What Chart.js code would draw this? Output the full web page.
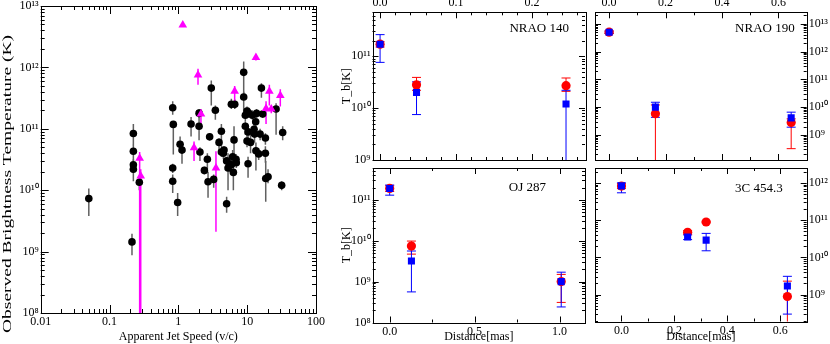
<!DOCTYPE html>
<html>
<head>
<meta charset="utf-8">
<script src="https://cdn.jsdelivr.net/npm/chart.js@4.4.1/dist/chart.umd.min.js"></script>
<style>
  body { margin: 0; background: #fff; width: 830px; height: 344px; position: relative; overflow: hidden; }
  canvas { position: absolute; }
</style>
</head>
<body>
<canvas id="speedChart" width="330" height="344" style="left:0;top:0"></canvas>
<canvas id="nrao140" width="250" height="165" style="left:340px;top:0"></canvas>
<canvas id="nrao190" width="240" height="165" style="left:590px;top:0"></canvas>
<canvas id="oj287" width="250" height="181" style="left:340px;top:163px"></canvas>
<canvas id="c454" width="240" height="181" style="left:590px;top:163px"></canvas>
<script>
// ---- left panel: jet speed vs brightness temperature ----
var speedBlack = [0.050, 0.212, 0.222, 0.222, 0.222, 0.222, 0.271, 0.828, 0.845, 0.828, 0.828, 0.977, 1.06, 1.13,
  1.53, 2.0, 2.0, 2.06, 2.39, 2.64, 2.70, 2.85, 3.01, 3.26, 3.45, 3.90, 4.22, 4.22, 4.51, 4.61, 5.03, 5.03, 5.27,
  5.51, 5.89, 5.89, 6.15, 6.30, 6.44, 6.60, 6.89, 6.95, 8.9, 8.9, 9.4, 9.4, 9.95, 9.95, 10.3, 10.3, 10.5, 11.2,
  11.9, 12.6, 12.8, 13.3, 13.4, 13.7, 14.7, 15.4, 16.1, 16.8, 18.4, 18.4, 18.6, 20.1, 26.3, 31.7, 32.8];
var tbBlack = [7.3e9, 1.44e9, 8.4e10, 4.3e10, 2.6e10, 2.2e10, 1.35e10, 2.2e11, 1.18e11, 2.3e10, 1.4e10, 6.3e9, 5.6e10, 4.5e10,
  1.2e11, 1.8e11, 1.1e11, 4.2e10, 2.1e10, 3.2e10, 1.37e10, 7.4e10, 4.6e11, 1.5e10, 2.0e11, 6.0e10, 9.1e10, 4.2e10, 4.0e10, 4.5e10, 3.0e10, 6.0e9, 2.3e10,
  2.7e10, 2.5e11, 2.6e10, 3.5e10, 1.95e10, 6.6e10, 2.5e11, 3.2e10, 2.8e10, 8.3e11, 3.3e11, 1.66e11, 1.1e11, 1.95e11, 6.3e10, 8.9e10, 2.7e10, 1.8e11, 6.0e10,
  1.66e11, 9.8e10, 8.2e10, 1.3e11, 4.4e10, 1.78e11, 3.9e10, 8.2e10, 4.6e11, 1.74e11, 7.1e10, 4.0e10, 1.55e10, 1.66e10, 2.1e11, 1.2e10, 8.7e10];
var tbBlackLo = [3.8e9, 8.7e8, 5.4e10, 3.0e10, 1.9e10, 1.4e10, 1.0e10, 1.7e11, 3.8e10, 1.9e10, 9e9, 3.8e9, 4.3e10, 2.7e10,
  7.5e10, 1.5e11, 6.5e10, 3.0e10, 1.8e10, 2.2e10, 7.5e9, 6.5e10, 2.4e11, 1.1e10, 1.4e11, 4.5e10, 5e10, 3.5e10, 3.2e10, 3.6e10, 2.5e10, 4.3e9, 1.0e10,
  2.0e10, 2.1e11, 2.0e10, 2.5e10, 1.0e10, 3.6e10, 2.1e11, 2.6e10, 2.3e10, 3.5e11, 1.8e11, 1.3e11, 8e10, 1.6e11, 5e10, 7e10, 1.6e10, 1.5e11, 4e10,
  1.4e11, 8e10, 6e10, 1.0e11, 2.1e10, 1.5e11, 3.1e10, 6.5e10, 3.2e11, 1.5e11, 5.5e10, 2.8e10, 6.5e9, 1.3e10, 8e10, 1.0e10, 6.5e10];
var tbBlackHi = [1.07e10, 1.95e9, 1.2e11, 5.5e10, 3.2e10, 2.6e10, 1.7e10, 2.8e11, 1.3e11, 2.7e10, 1.8e10, 9e9, 7.5e10, 5.5e10,
  1.55e11, 2.1e11, 1.6e11, 5.0e10, 2.4e10, 4.0e10, 2.0e10, 8.5e10, 6.1e11, 1.8e10, 2.4e11, 7e10, 1.2e11, 5e10, 4.8e10, 5.2e10, 3.5e10, 7.8e9, 4.0e10,
  3.3e10, 3.1e11, 3.3e10, 4.5e10, 3.5e10, 1.1e11, 3.0e11, 3.9e10, 3.4e10, 1.25e12, 4.0e11, 2.0e11, 1.3e11, 2.3e11, 8e10, 1.1e11, 3.5e10, 2.2e11, 8e10,
  2.0e11, 1.2e11, 1.0e11, 1.6e11, 6.0e10, 2.1e11, 4.8e10, 1.0e11, 5.5e11, 2.0e11, 8.5e10, 5.2e10, 3.0e10, 2.2e10, 2.6e11, 1.4e10, 1.1e11];
var speedLimit = [1.16, 1.93, 2.13, 1.69, 0.274, 0.284, 3.52, 6.58, 13.4, 18.8, 21.0, 22.4, 30.3];
var tbLimit = [4.9e12, 7.5e11, 1.74e11, 4.9e10, 3.3e10, 1.7e10, 2.3e10, 4.1e11, 1.45e12, 2.15e11, 4.1e11, 2.1e11, 3.5e11];
var tbLimitLo = [4.9e12, 5.2e11, 1.0e11, 3.0e10, 1e7, 1e7, 2.1e9, 2.4e11, 1.3e12, 1.2e11, 2.4e11, 1.8e11, 2.3e11];
var tbLimitHi = [4.9e12, 9.5e11, 2.1e11, 6.2e10, 4.2e10, 2.2e10, 4.3e10, 5.0e11, 1.6e12, 2.8e11, 5.2e11, 2.4e11, 4.4e11];
var speedTicks = [0.01, 0.1, 1, 10, 100];
var tbTicks = [1e8, 1e9, 1e10, 1e11, 1e12, 1e13];

// ---- NRAO 140 ----
var n140Dist = [0.0, 0.048, 0.245];
var n140Red = [1.7e11, 2.8e10, 2.7e10];
var n140RedLo = [1.5e11, 2.2e10, 2.1e10];
var n140RedHi = [1.9e11, 3.9e10, 3.8e10];
var n140Blue = [1.7e11, 2.0e10, 1.2e10];
var n140BlueLo = [7.6e10, 7.5e9, 1e7];
var n140BlueHi = [2.6e11, 3.2e10, 2.2e10];
var n140XTicks = [0.0, 0.1, 0.2];
var n140YTicks = [1e9, 1e10, 1e11];

// ---- NRAO 190 ----
var n190Dist = [0.0, 0.164, 0.645];
var n190Red = [5e12, 5.8e9, 2.8e9];
var n190RedLo = [4.5e12, 1e7, 3.2e8];
var n190RedHi = [5.5e12, 1.2e10, 3.8e9];
var n190Blue = [5e12, 1e10, 4.1e9];
var n190BlueLo = [4.5e12, 4.3e9, 1.9e9];
var n190BlueHi = [5.5e12, 1.5e10, 6.6e9];
var n190XTicks = [0.0, 0.2, 0.4, 0.6];
var n190YTicks = [1e9, 1e10, 1e11, 1e12, 1e13];

// ---- OJ 287 ----
var ojDist = [0.0, 0.128, 1.01];
var ojRed = [1.9e11, 7.4e9, 1e9];
var ojRedLo = [1.6e11, 4.7e9, 3.1e8];
var ojRedHi = [2.2e11, 9.8e9, 1.5e9];
var ojBlue = [1.9e11, 3.2e9, 1e9];
var ojBlueLo = [1.3e11, 5.6e8, 2.4e8];
var ojBlueHi = [2.3e11, 5.6e9, 1.7e9];
var ojXTicks = [0.0, 0.5, 1.0];
var ojYTicks = [1e8, 1e9, 1e10, 1e11];

// ---- 3C 454.3 ----
var c454Dist = [0.0, 0.25, 0.32, 0.627];
var c454Red = [8.2e11, 4.7e10, 8.9e10, 8.9e8];
var c454RedLo = [7e11, 4.2e10, 8.5e10, 1e7];
var c454RedHi = [9.5e11, 5.2e10, 9.3e10, 2.3e9];
var c454Blue = [8.3e11, 3.5e10, 2.9e10, 1.7e9];
var c454BlueLo = [5.4e11, 3.0e10, 1.5e10, 3.0e8];
var c454BlueHi = [1e12, 4.0e10, 4.4e10, 3.1e9];
var c454XTicks = [0.0, 0.2, 0.4, 0.6];
var c454YTicks = [1e9, 1e10, 1e11, 1e12];

var SUP = {'0':'\u2070','1':'\u00b9','2':'\u00b2','3':'\u00b3','4':'\u2074','5':'\u2075','6':'\u2076','7':'\u2077','8':'\u2078','9':'\u2079','-':'\u207b'};
function powLabel(v) {
  var e = Math.round(Math.log10(v));
  return '10' + String(e).split('').map(function (c) { return SUP[c]; }).join('');
}

function pts(xs, ys) {
  return xs.map(function (x, i) { return {x: x, y: ys[i]}; });
}

// error bars drawn from the data, through the chart scales
var errorBars = {
  id: 'errorBars',
  beforeDatasetsDraw: function (chart) {
    var ctx = chart.ctx, a = chart.chartArea;
    var xs = chart.scales.x, ys = chart.scales.y;
    ctx.save();
    ctx.beginPath();
    ctx.rect(a.left, a.top, a.right - a.left, a.bottom - a.top);
    ctx.clip();
    chart.data.datasets.slice().reverse().forEach(function (ds) {
      if (!ds.errLo) return;
      ctx.strokeStyle = ds.errColor;
      ctx.lineWidth = ds.errWidth || 1;
      ds.data.forEach(function (p, j) {
        var px = xs.getPixelForValue(p.x);
        var lo = ys.getPixelForValue(ds.errLo[j]);
        var hi = ys.getPixelForValue(ds.errHi[j]);
        ctx.beginPath();
        ctx.moveTo(px, lo);
        ctx.lineTo(px, hi);
        if (ds.cap) {
          ctx.moveTo(px - ds.cap, lo); ctx.lineTo(px + ds.cap, lo);
          ctx.moveTo(px - ds.cap, hi); ctx.lineTo(px + ds.cap, hi);
        }
        ctx.stroke();
      });
    });
    ctx.restore();
  }
};

function tickMarks(scale, minorStep) {
  var out = [];
  if (scale.type === 'logarithmic') {
    for (var e = Math.floor(Math.log10(scale.min)); e <= Math.ceil(Math.log10(scale.max)); e++) {
      for (var k = 1; k < 10; k++) {
        var v = k * Math.pow(10, e);
        if (v >= scale.min * 0.9999 && v <= scale.max * 1.0001) out.push({v: v, major: k === 1});
      }
    }
  } else {
    var n0 = Math.ceil(scale.min / minorStep - 1e-9), n1 = Math.floor(scale.max / minorStep + 1e-9);
    for (var n = n0; n <= n1; n++) {
      var val = n * minorStep;
      out.push({v: val, major: scale.ticks.some(function (t) { return Math.abs(t.value - val) < 1e-9; })});
    }
  }
  return out;
}

// box frame with inward ticks on every side, plus the panel name
var frame = {
  id: 'frame',
  afterDraw: function (chart, args, o) {
    var ctx = chart.ctx, a = chart.chartArea;
    var xs = chart.scales.x, ys = chart.scales.y;
    ctx.save();
    ctx.strokeStyle = '#000';
    ctx.lineWidth = 1;
    ctx.strokeRect(Math.round(a.left) + 0.5, Math.round(a.top) + 0.5, Math.round(a.right - a.left), Math.round(a.bottom - a.top));
    ctx.beginPath();
    tickMarks(xs, o.xMinor).forEach(function (t) {
      var px = Math.round(xs.getPixelForValue(t.v)) + 0.5;
      var len = t.major ? o.major : o.minor;
      ctx.moveTo(px, a.bottom); ctx.lineTo(px, a.bottom - len);
      ctx.moveTo(px, a.top); ctx.lineTo(px, a.top + len);
    });
    tickMarks(ys).forEach(function (t) {
      var py = Math.round(ys.getPixelForValue(t.v)) + 0.5;
      var len = t.major ? o.major : o.minor;
      ctx.moveTo(a.left, py); ctx.lineTo(a.left + len, py);
      ctx.moveTo(a.right, py); ctx.lineTo(a.right - len, py);
    });
    ctx.stroke();
    ctx.fillStyle = '#000';
    if (o.text) {
      ctx.font = "13px 'Liberation Serif'";
      ctx.textAlign = 'right';
      ctx.textBaseline = 'alphabetic';
      ctx.fillText(o.text, a.right - o.dx, a.top + o.dy);
    }
    if (o.yTitle) {
      // long vertical title, drawn stretched along its length like the original
      ctx.translate(o.yTitle.x, o.yTitle.y);
      ctx.rotate(-Math.PI / 2);
      ctx.scale(o.yTitle.stretch, 1);
      ctx.font = o.yTitle.size + "px 'Liberation Serif'";
      ctx.textAlign = 'center';
      ctx.textBaseline = 'middle';
      ctx.fillText(o.yTitle.text, 0, 0);
    }
    ctx.restore();
  }
};

Chart.register(errorBars, frame);
Chart.defaults.font.family = "'Liberation Serif', 'Times New Roman', serif";
Chart.defaults.font.size = 12;
Chart.defaults.color = '#000';
Chart.defaults.animation = false;
Chart.defaults.responsive = false;
Chart.defaults.plugins.legend.display = false;
Chart.defaults.plugins.tooltip.enabled = false;

function axis(type, min, max, tickVals, fmt, extra) {
  var s = {
    type: type, min: min, max: max,
    grid: {display: false, drawTicks: false},
    border: {display: false},
    afterBuildTicks: function (sc) { sc.ticks = tickVals.map(function (v) { return {value: v}; }); },
    ticks: {callback: fmt, autoSkip: false, maxRotation: 0, padding: 2, font: {size: 12}}
  };
  for (var k in extra) s[k] = extra[k];
  return s;
}

// left panel (magenta lower limits listed first so they sit on top)
new Chart(document.getElementById('speedChart'), {
  type: 'scatter',
  data: {
    datasets: [{
      data: pts(speedLimit, tbLimit), errLo: tbLimitLo, errHi: tbLimitHi, errColor: '#ff00ff', errWidth: 1.5,
      pointStyle: 'triangle', pointRadius: 5, backgroundColor: '#ff00ff', borderColor: '#ff00ff', borderWidth: 0
    }, {
      data: pts(speedBlack, tbBlack), errLo: tbBlackLo, errHi: tbBlackHi, errColor: '#606060', errWidth: 1.5,
      pointStyle: 'circle', pointRadius: 3.8, backgroundColor: '#000', borderColor: '#000', borderWidth: 0
    }]
  },
  options: {
    layout: {padding: {left: 0, right: 14, top: 6, bottom: 0}},
    scales: {
      x: axis('logarithmic', 0.01, 100, speedTicks, function (v) { return String(v); }, {
        position: 'bottom',
        title: {display: true, text: 'Apparent Jet Speed (v/c)', font: {size: 12}, padding: {top: 0, bottom: 0}},
        afterFit: function (s) { s.height = 31; s.paddingLeft = 0; s.paddingRight = 0; }
      }),
      y: axis('logarithmic', 1e8, 1e13, tbTicks, powLabel, {
        position: 'left',
        afterFit: function (s) { s.width = 40.7; s.paddingTop = 0; s.paddingBottom = 0; }
      })
    },
    plugins: {frame: {major: 8, minor: 4,
      yTitle: {text: 'Observed Brightness Temperature (K)', x: 8, y: 184, size: 13, stretch: 1.5}}}
  }
});

function distancePanel(id, d, red, redLo, redHi, blue, blueLo, blueHi, xr, yr, xTicks, yTicks, lay) {
  return new Chart(document.getElementById(id), {
    type: 'scatter',
    data: {
      datasets: [{
        data: pts(d, blue), errLo: blueLo, errHi: blueHi, errColor: '#0000ff', cap: 4.5,
        pointStyle: 'rect', pointRadius: 5, backgroundColor: '#0000ff', borderWidth: 0
      }, {
        data: pts(d, red), errLo: redLo, errHi: redHi, errColor: '#ff0000', cap: 4.5,
        pointStyle: 'circle', pointRadius: 4.6, backgroundColor: '#ff0000', borderWidth: 0
      }]
    },
    options: {
      layout: {padding: lay.padding},
      scales: {
        x: axis('linear', xr[0], xr[1], xTicks, function (v) { return v.toFixed(1); }, {
          position: lay.xPos,
          title: {display: lay.xPos === 'bottom', text: 'Distance[mas]', font: {size: 12}, padding: {top: 0, bottom: 0}},
          afterFit: function (s) { s.height = lay.xH; s.paddingLeft = 0; s.paddingRight = 0; }
        }),
        y: axis('logarithmic', yr[0], yr[1], yTicks, powLabel, {
          position: lay.yPos,
          title: {display: lay.yPos === 'left', text: 'T_b[K]', font: {size: 12}, padding: {top: 0, bottom: 0}},
          afterFit: function (s) { s.width = lay.yW; s.paddingTop = 0; s.paddingBottom = 0; }
        })
      },
      plugins: {frame: {major: 6, minor: 3, xMinor: lay.xMinor, text: lay.text, dx: lay.dx, dy: lay.dy}}
    }
  });
}

distancePanel('nrao140', n140Dist, n140Red, n140RedLo, n140RedHi, n140Blue, n140BlueLo, n140BlueHi,
  [-0.01, 0.27], [1e9, 7e11], n140XTicks, n140YTicks,
  {padding: {left: 0, right: 2.7, top: 0, bottom: 5}, xPos: 'top', xH: 12.3, yPos: 'left', yW: 32.5,
   xMinor: 0.02, text: 'NRAO 140', dx: 16, dy: 20});

distancePanel('nrao190', n190Dist, n190Red, n190RedLo, n190RedHi, n190Blue, n190BlueLo, n190BlueHi,
  [-0.05, 0.7], [1.25e8, 2.6e13], n190XTicks, n190YTicks,
  {padding: {left: 2.5, right: 0, top: 0, bottom: 5}, xPos: 'top', xH: 12.3, yPos: 'right', yW: 23.3,
   xMinor: 0.1, text: 'NRAO 190', dx: 12, dy: 19.5});

distancePanel('oj287', ojDist, ojRed, ojRedLo, ojRedHi, ojBlue, ojBlueLo, ojBlueHi,
  [-0.1, 1.15], [1e8, 6e11], ojXTicks, ojYTicks,
  {padding: {left: 0, right: 2.7, top: 5, bottom: 0}, xPos: 'bottom', xH: 21.5, yPos: 'left', yW: 32.7,
   xMinor: 0.25, text: 'OJ 287', dx: 39, dy: 23});

distancePanel('c454', c454Dist, c454Red, c454RedLo, c454RedHi, c454Blue, c454BlueLo, c454BlueHi,
  [-0.1, 0.7], [1.9e8, 2.5e12], c454XTicks, c454YTicks,
  {padding: {left: 3.3, right: 0, top: 5, bottom: 0}, xPos: 'bottom', xH: 22.5, yPos: 'right', yW: 23.3,
   xMinor: 0.1, text: '3C 454.3', dx: 24, dy: 23.5});
</script>
</body>
</html>
